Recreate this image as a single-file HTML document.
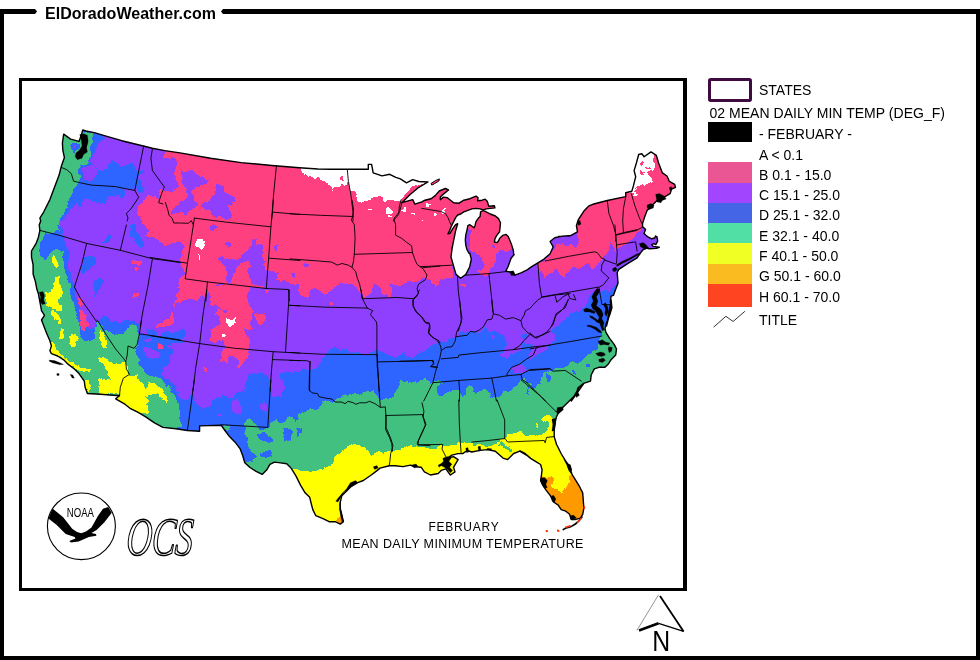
<!DOCTYPE html>
<html lang="en">
<head>
<meta charset="utf-8">
<title>ElDoradoWeather.com - February Mean Daily Minimum Temperature</title>
<style>
html,body{margin:0;padding:0;background:#fff;}
body{width:980px;height:660px;overflow:hidden;position:relative;font-family:"Liberation Sans",sans-serif;}
svg{position:absolute;left:0;top:0;display:block;}
text{font-family:"Liberation Sans",sans-serif;fill:#000;}
.lg{font-size:14px;}
.st{fill:none;stroke:#000;stroke-width:0.9;stroke-linejoin:round;stroke-linecap:round;}
.co{fill:none;stroke:#000;stroke-width:1.4;stroke-linejoin:round;stroke-linecap:round;}
.k{fill:#000;stroke:#000;stroke-width:0.2;stroke-linejoin:round;}
</style>
</head>
<body>
<svg width="980" height="660" viewBox="0 0 980 660">
<rect x="0" y="0" width="980" height="660" fill="#fff"/>

<g id="frame" fill="#000">
<rect x="0" y="9" width="4" height="651"/>
<polygon points="0,9 35,9 37,11.5 35,14 0,14"/>
<polygon points="223,9 980,9 980,14 223,14 221,11.5"/>
<rect x="976" y="9" width="4" height="651"/>
<rect x="0" y="656" width="980" height="4"/>
</g>
<text x="45" y="19" font-size="16" font-weight="bold" textLength="171" lengthAdjust="spacing">ElDoradoWeather.com</text>
<path d="M19,78 H687 V591 H19 Z M22,81 V588 H683 V81 Z" fill="#000" fill-rule="evenodd"/>
<g id="map">
<clipPath id="us"><polygon points="63.7,134.1 70.6,139.1 79.0,141.4 81.3,135.3 82.8,129.9 85.9,131.0 94.3,132.6 103.5,135.3 121.8,140.7 143.3,146.0 152.4,148.3 164.7,150.6 180.0,152.9 210.6,158.3 241.2,162.6 271.8,165.5 299.4,167.8 317.8,169.0 330.0,169.3 368.3,169.3 368.3,164.4 371.6,164.4 373.2,172.8 382.0,175.9 389.7,174.3 395.8,177.4 400.4,178.9 406.5,182.8 412.7,179.7 418.8,181.5 428.0,182.0 418.8,187.3 409.6,195.0 401.9,202.7 412.7,199.6 414.9,204.2 421.8,201.9 425.0,200.2 431.1,198.7 435.2,195.6 439.3,191.0 445.4,188.5 448.5,190.0 443.4,194.1 440.3,197.1 440.3,199.7 443.4,197.1 447.4,197.7 450.5,200.2 453.6,202.8 458.7,203.3 463.8,200.2 469.9,198.7 476.0,196.1 478.1,197.7 477.6,200.7 482.1,200.2 485.2,199.2 487.2,201.2 488.8,206.3 494.4,205.8 494.9,207.9 490.3,208.4 486.2,208.9 483.2,209.9 480.1,208.9 476.0,208.4 471.9,208.9 467.9,210.4 463.8,211.9 460.7,214.0 457.7,215.0 455.6,217.6 453.6,221.6 451.5,225.7 449.5,230.8 448.0,233.9 450.0,233.4 452.6,228.8 455.6,224.7 457.7,223.7 455.6,230.8 454.6,235.9 453.1,243.1 452.0,249.2 451.0,257.0 452.9,263.7 456.0,274.4 460.6,278.2 465.9,274.4 469.7,266.7 471.3,259.1 469.7,253.0 468.9,253.3 466.8,249.2 465.8,245.1 465.3,240.0 465.8,234.9 466.8,230.8 467.9,225.7 469.9,224.7 474.0,227.8 475.0,225.7 476.0,221.6 478.1,218.6 480.1,216.5 480.6,211.9 483.2,210.4 486.2,211.9 490.3,214.0 495.4,216.0 498.5,218.6 500.5,222.7 500.0,227.8 499.5,231.8 496.4,235.9 494.9,239.0 494.4,242.0 497.4,242.6 500.0,238.0 502.6,235.4 506.1,234.4 508.2,236.4 509.7,240.0 511.7,245.1 513.3,250.2 513.8,255.3 514.1,254.5 511.1,258.3 508.0,266.7 505.7,271.3 511.1,272.1 514.9,275.2 521.0,272.9 527.1,269.8 531.7,266.7 537.9,262.9 544.0,259.1 550.1,253.7 553.2,246.8 550.1,241.5 554.7,237.7 562.3,236.1 570.0,235.8 558.4,236.4 570.6,235.7 577.5,231.8 576.4,225.7 578.3,219.6 584.4,210.4 589.0,205.8 592.8,204.3 607.3,200.5 625.7,196.6 625.7,192.8 631.8,191.3 633.4,185.9 635.7,176.7 634.1,170.6 636.4,163.0 638.7,154.5 641.8,153.8 644.1,156.8 651.0,151.9 656.3,155.3 658.6,163.0 662.4,172.9 667.0,176.0 669.3,181.3 674.7,184.4 675.5,187.4 671.6,189.0 670.1,193.6 662.4,198.2 656.3,201.2 651.7,205.8 647.1,210.4 644.8,216.5 642.6,223.4 642.5,226.5 645.6,229.6 644.0,233.4 647.9,236.9 651.7,238.8 654.7,238.0 655.5,236.0 657.0,236.9 657.7,241.1 655.8,244.6 653.7,243.7 651.7,244.6 653.2,246.4 659.3,247.3 656.3,248.4 649.4,248.7 646.3,248.0 643.3,249.5 640.2,253.3 637.1,257.9 628.0,263.3 618.8,269.4 617.2,272.4 618.0,283.2 615.7,289.3 613.4,295.4 611.1,296.2 610.4,301.5 611.1,307.7 609.6,313.8 608.1,319.9 606.5,326.0 611.1,300.0 611.9,307.7 609.6,315.3 606.5,323.0 605.0,328.3 605.8,332.1 609.6,338.3 614.2,344.4 616.5,349.0 615.7,355.1 611.1,359.7 608.1,364.3 605.0,367.3 598.9,367.3 594.3,368.9 591.2,375.0 590.5,381.1 583.6,383.4 579.0,387.2 575.9,393.4 572.9,398.0 571.3,401.0 584.1,383.1 578.0,387.7 576.4,393.8 570.3,399.9 564.2,406.0 559.6,410.6 556.5,416.7 555.0,422.9 554.2,430.5 554.2,436.6 556.5,444.3 561.1,453.5 565.7,461.1 569.5,467.2 571.8,473.4 564.3,459.2 568.9,465.3 571.2,473.0 575.0,479.1 579.6,486.7 582.7,492.9 583.4,502.0 583.9,508.2 582.7,514.3 580.4,518.1 575.0,519.6 571.2,519.6 569.6,514.3 565.8,511.2 561.2,509.7 558.2,505.1 553.6,502.0 550.5,495.9 545.9,489.8 542.9,485.2 540.6,480.6 541.3,476.0 542.1,469.9 540.6,464.5 536.7,462.2 530.6,458.4 524.5,453.1 519.9,450.8 525.9,455.0 519.8,451.2 513.7,453.5 507.6,459.6 503.0,458.1 495.3,451.2 487.7,449.6 480.0,450.4 471.8,452.0 467.2,450.5 462.7,453.6 458.1,453.6 451.9,455.1 447.3,458.2 453.5,456.6 458.1,459.7 453.5,467.3 455.0,471.9 450.4,475.0 445.8,468.9 441.2,470.4 438.2,473.5 430.5,475.0 424.4,471.9 421.3,467.3 413.7,466.6 410.6,465.1 403.0,466.6 395.3,465.8 389.2,465.8 380.0,468.1 377.0,470.6 370.9,475.2 363.3,480.5 357.1,482.8 351.0,486.6 346.4,491.2 341.8,495.8 340.3,501.9 340.3,509.6 341.8,515.7 343.4,521.8 340.3,524.1 335.7,521.8 329.6,521.8 323.5,518.8 315.8,515.7 312.8,509.6 311.2,503.5 309.7,497.3 305.1,492.8 300.5,485.1 295.9,475.9 291.3,468.3 286.7,463.7 280.6,462.9 274.5,462.1 269.9,464.4 266.8,469.8 262.2,474.4 256.1,471.3 250.0,467.5 244.8,462.7 242.5,455.0 240.2,448.9 235.6,442.8 229.5,436.6 224.9,430.5 221.1,425.2 199.6,425.9 199.6,431.3 187.4,430.5 175.9,428.7 162.9,427.4 154.5,422.9 145.3,416.7 137.7,412.1 130.0,408.3 124.9,404.2 115.7,398.8 119.5,395.8 100.4,394.2 87.4,393.5 85.1,387.3 84.3,381.2 79.0,373.6 74.4,369.0 68.3,364.4 63.7,359.8 57.6,356.0 51.4,353.7 49.9,350.6 51.4,346.0 49.9,340.7 46.8,333.8 43.8,326.1 41.5,320.0 44.5,315.3 41.5,310.7 40.7,306.1 38.4,293.9 36.9,289.3 35.4,281.6 33.1,274.0 33.1,264.8 31.5,257.1 31.5,251.0 36.1,243.4 38.4,237.2 39.9,230.4 39.2,225.0 40.7,221.0 39.9,218.0 43.8,211.8 49.9,199.6 54.5,187.3 59.1,175.1 61.4,165.9 64.4,157.5 62.9,150.6 62.4,143.0"/></clipPath>
<filter id="rough" filterUnits="userSpaceOnUse" x="0" y="80" width="700" height="520" color-interpolation-filters="sRGB"><feTurbulence type="fractalNoise" baseFrequency="0.11" numOctaves="3" seed="7" result="n"/><feDisplacementMap in="SourceGraphic" in2="n" scale="7" xChannelSelector="R" yChannelSelector="G"/></filter>
<g clip-path="url(#us)">
<rect x="0" y="80" width="700" height="520" fill="#8f40ff"/>
<g filter="url(#rough)" shape-rendering="crispEdges">
<polygon points="63.7,134.1 70.6,139.1 79.0,141.4 81.3,135.3 82.8,129.9 85.9,131.0 94.3,132.6 103.5,135.3 121.8,140.7 143.3,146.0 152.4,148.3 164.7,150.6 180.0,152.9 210.6,158.3 241.2,162.6 271.8,165.5 299.4,167.8 317.8,169.0 330.0,169.3 368.3,169.3 368.3,164.4 371.6,164.4 373.2,172.8 382.0,175.9 389.7,174.3 395.8,177.4 400.4,178.9 406.5,182.8 412.7,179.7 418.8,181.5 428.0,182.0 418.8,187.3 409.6,195.0 401.9,202.7 412.7,199.6 414.9,204.2 421.8,201.9 425.0,200.2 431.1,198.7 435.2,195.6 439.3,191.0 445.4,188.5 448.5,190.0 443.4,194.1 440.3,197.1 440.3,199.7 443.4,197.1 447.4,197.7 450.5,200.2 453.6,202.8 458.7,203.3 463.8,200.2 469.9,198.7 476.0,196.1 478.1,197.7 477.6,200.7 482.1,200.2 485.2,199.2 487.2,201.2 488.8,206.3 494.4,205.8 494.9,207.9 490.3,208.4 486.2,208.9 483.2,209.9 480.1,208.9 476.0,208.4 471.9,208.9 467.9,210.4 463.8,211.9 460.7,214.0 457.7,215.0 455.6,217.6 453.6,221.6 451.5,225.7 449.5,230.8 448.0,233.9 450.0,233.4 452.6,228.8 455.6,224.7 457.7,223.7 455.6,230.8 454.6,235.9 453.1,243.1 452.0,249.2 451.0,257.0 452.9,263.7 456.0,274.4 460.6,278.2 465.9,274.4 469.7,266.7 471.3,259.1 469.7,253.0 468.9,253.3 466.8,249.2 465.8,245.1 465.3,240.0 465.8,234.9 466.8,230.8 467.9,225.7 469.9,224.7 474.0,227.8 475.0,225.7 476.0,221.6 478.1,218.6 480.1,216.5 480.6,211.9 483.2,210.4 486.2,211.9 490.3,214.0 495.4,216.0 498.5,218.6 500.5,222.7 500.0,227.8 499.5,231.8 496.4,235.9 494.9,239.0 494.4,242.0 497.4,242.6 500.0,238.0 502.6,235.4 506.1,234.4 508.2,236.4 509.7,240.0 511.7,245.1 513.3,250.2 513.8,255.3 514.1,254.5 511.1,258.3 508.0,266.7 505.7,271.3 511.1,272.1 514.9,275.2 521.0,272.9 527.1,269.8 531.7,266.7 537.9,262.9 544.0,259.1 550.1,253.7 553.2,246.8 550.1,241.5 554.7,237.7 562.3,236.1 570.0,235.8 558.4,236.4 570.6,235.7 577.5,231.8 576.4,225.7 578.3,219.6 584.4,210.4 589.0,205.8 592.8,204.3 607.3,200.5 625.7,196.6 625.7,192.8 631.8,191.3 633.4,185.9 635.7,176.7 634.1,170.6 636.4,163.0 638.7,154.5 641.8,153.8 644.1,156.8 651.0,151.9 656.3,155.3 658.6,163.0 662.4,172.9 667.0,176.0 669.3,181.3 674.7,184.4 675.5,187.4 671.6,189.0 670.1,193.6 662.4,198.2 656.3,201.2 651.7,205.8 647.1,210.4 644.8,216.5 642.6,223.4 642.5,226.5 645.6,229.6 644.0,233.4 647.9,236.9 651.7,238.8 654.7,238.0 655.5,236.0 657.0,236.9 657.7,241.1 655.8,244.6 653.7,243.7 651.7,244.6 653.2,246.4 659.3,247.3 656.3,248.4 649.4,248.7 646.3,248.0 643.3,249.5 640.2,253.3 637.1,257.9 628.0,263.3 618.8,269.4 617.2,272.4 618.0,283.2 615.7,289.3 613.4,295.4 611.1,296.2 610.4,301.5 611.1,307.7 609.6,313.8 608.1,319.9 606.5,326.0 611.1,300.0 611.9,307.7 609.6,315.3 606.5,323.0 605.0,328.3 605.8,332.1 609.6,338.3 614.2,344.4 616.5,349.0 615.7,355.1 611.1,359.7 608.1,364.3 605.0,367.3 598.9,367.3 594.3,368.9 591.2,375.0 590.5,381.1 583.6,383.4 579.0,387.2 575.9,393.4 572.9,398.0 571.3,401.0 584.1,383.1 578.0,387.7 576.4,393.8 570.3,399.9 564.2,406.0 559.6,410.6 556.5,416.7 555.0,422.9 554.2,430.5 554.2,436.6 556.5,444.3 561.1,453.5 565.7,461.1 569.5,467.2 571.8,473.4 564.3,459.2 568.9,465.3 571.2,473.0 575.0,479.1 579.6,486.7 582.7,492.9 583.4,502.0 583.9,508.2 582.7,514.3 580.4,518.1 575.0,519.6 571.2,519.6 569.6,514.3 565.8,511.2 561.2,509.7 558.2,505.1 553.6,502.0 550.5,495.9 545.9,489.8 542.9,485.2 540.6,480.6 541.3,476.0 542.1,469.9 540.6,464.5 536.7,462.2 530.6,458.4 524.5,453.1 519.9,450.8 525.9,455.0 519.8,451.2 513.7,453.5 507.6,459.6 503.0,458.1 495.3,451.2 487.7,449.6 480.0,450.4 471.8,452.0 467.2,450.5 462.7,453.6 458.1,453.6 451.9,455.1 447.3,458.2 453.5,456.6 458.1,459.7 453.5,467.3 455.0,471.9 450.4,475.0 445.8,468.9 441.2,470.4 438.2,473.5 430.5,475.0 424.4,471.9 421.3,467.3 413.7,466.6 410.6,465.1 403.0,466.6 395.3,465.8 389.2,465.8 380.0,468.1 377.0,470.6 370.9,475.2 363.3,480.5 357.1,482.8 351.0,486.6 346.4,491.2 341.8,495.8 340.3,501.9 340.3,509.6 341.8,515.7 343.4,521.8 340.3,524.1 335.7,521.8 329.6,521.8 323.5,518.8 315.8,515.7 312.8,509.6 311.2,503.5 309.7,497.3 305.1,492.8 300.5,485.1 295.9,475.9 291.3,468.3 286.7,463.7 280.6,462.9 274.5,462.1 269.9,464.4 266.8,469.8 262.2,474.4 256.1,471.3 250.0,467.5 244.8,462.7 242.5,455.0 240.2,448.9 235.6,442.8 229.5,436.6 224.9,430.5 221.1,425.2 199.6,425.9 199.6,431.3 187.4,430.5 175.9,428.7 162.9,427.4 154.5,422.9 145.3,416.7 137.7,412.1 130.0,408.3 124.9,404.2 115.7,398.8 119.5,395.8 100.4,394.2 87.4,393.5 85.1,387.3 84.3,381.2 79.0,373.6 74.4,369.0 68.3,364.4 63.7,359.8 57.6,356.0 51.4,353.7 49.9,350.6 51.4,346.0 49.9,340.7 46.8,333.8 43.8,326.1 41.5,320.0 44.5,315.3 41.5,310.7 40.7,306.1 38.4,293.9 36.9,289.3 35.4,281.6 33.1,274.0 33.1,264.8 31.5,257.1 31.5,251.0 36.1,243.4 38.4,237.2 39.9,230.4 39.2,225.0 40.7,221.0 39.9,218.0 43.8,211.8 49.9,199.6 54.5,187.3 59.1,175.1 61.4,165.9 64.4,157.5 62.9,150.6 62.4,143.0" fill="#8f40ff"/>
<polygon points="165.2,146.1 164.9,159.9 168.3,158.4 172.1,156.1 175.9,158.4 177.4,163.0 175.2,169.1 173.6,176.0 177.4,181.3 180.5,185.9 175.9,189.7 168.3,192.0 164.4,192.8 162.9,187.4 159.8,190.5 158.3,198.2 154.5,196.3 148.4,197.4 142.2,201.2 137.7,207.3 138.4,215.0 143.8,221.1 146.8,228.8 153.0,233.4 156.8,239.5 160.6,244.1 283.1,244.1 283.1,155.3" fill="#ff4080"/>
<polygon points="143.8,221.9 149.9,231.1 145.3,235.7 154.5,238.0 165.2,241.8 174.4,240.3 180.5,238.0 184.3,244.9 180.5,251.0 182.8,255.6 180.5,261.7 183.6,270.9 180.5,278.6 177.4,286.2 180.5,292.3 175.9,298.5 175.2,306.1 180.5,298.5 186.6,295.4 191.2,296.9 195.8,300.0 200.4,296.9 205.0,298.5 208.1,293.9 209.6,292.3 215.7,286.2 221.8,284.7 228.0,289.3 224.9,293.9 215.7,295.4 209.6,296.9 211.1,303.1 215.7,304.6 221.8,307.7 228.0,310.7 224.9,314.5 218.8,313.8 220.3,319.9 221.8,329.1 252.4,329.1 252.4,316.8 250.9,306.1 247.9,296.9 249.4,287.8 266.2,287.8 267.0,270.9 276.9,270.9 283.1,275.5 283.1,221.9" fill="#ff4080"/>
<polygon points="131.5,261.0 137.7,259.4 142.2,261.7 137.7,264.0 132.3,264.5" fill="#ff4080"/>
<polygon points="134.6,269.4 137.7,267.9 136.9,270.9 134.9,271.7" fill="#ff4080"/>
<polygon points="133.1,294.6 136.1,293.9 139.2,296.9 136.1,298.5 133.4,297.7" fill="#ff4080"/>
<polygon points="159.1,323.0 165.2,319.9 170.6,313.0 174.4,315.3 173.6,323.0 168.3,326.0 160.6,326.8" fill="#ff4080"/>
<polygon points="254.0,313.8 263.2,313.0 266.2,318.4 261.6,323.7 257.0,318.4" fill="#ff4080"/>
<polygon points="210.4,303.8 215.7,303.1 217.2,305.4 211.9,306.1" fill="#ff4080"/>
<polygon points="265.5,290.1 270.1,289.3 268.5,292.3 265.9,292.7" fill="#ff4080"/>
<polygon points="206.6,286.9 211.2,294.6 218.9,300.7 226.5,306.8 229.6,311.4 223.5,319.1 220.4,325.2 214.3,326.7 210.5,331.3 209.7,337.4 212.8,342.0 217.3,339.0 223.5,340.5 225.0,348.2 221.9,354.3 221.2,360.4 226.5,362.7 228.1,355.8 235.7,355.8 238.8,360.4 238.0,366.5 240.3,368.1 243.4,361.9 247.2,357.3 248.0,351.2 249.5,343.6 246.4,334.4 242.6,328.3 248.0,323.7 252.6,319.1 251.8,311.4 249.5,303.8 248.0,296.1 249.5,286.9" fill="#ff4080"/>
<polygon points="209.7,303.0 215.8,303.8 215.1,306.1 210.5,305.3" fill="#ff4080"/>
<polygon points="217.3,308.4 223.5,309.9 225.0,314.5 218.9,315.3 214.3,313.0" fill="#ff4080"/>
<polygon points="176.0,296.1 180.6,290.0 206.6,290.0 206.6,294.6 200.5,296.1 194.4,300.7 188.3,297.7 179.1,303.8 176.0,299.2" fill="#ff4080"/>
<polygon points="254.1,313.7 263.3,313.0 266.3,319.1 262.5,324.4 258.7,319.1" fill="#ff4080"/>
<polygon points="156.1,326.0 159.2,322.9 165.3,319.1 169.9,314.5 173.7,313.0 174.5,322.1 168.4,323.7 162.2,327.5 157.7,329.8" fill="#ff4080"/>
<polygon points="202.0,368.1 204.3,367.3 205.9,373.4 203.6,372.7" fill="#ff4080"/>
<polygon points="184.4,386.4 186.0,386.1 186.3,391.0 184.4,391.0" fill="#ff4080"/>
<polygon points="265.6,290.0 269.4,290.3 267.9,292.3 266.0,291.8" fill="#ff4080"/>
<polygon points="267.8,250.9 266.8,271.4 274.0,269.3 280.1,263.2 284.2,264.2 279.1,271.4 275.0,279.5 283.2,281.6 291.3,283.6 297.5,285.7 298.5,292.8 306.7,299.0 310.8,290.8 315.9,287.7 322.0,290.8 325.1,294.9 332.2,288.7 338.4,284.7 348.6,283.6 352.7,282.2 357.8,288.7 360.9,292.8 362.9,295.9 371.1,294.9 373.1,285.7 380.3,286.7 382.4,294.9 391.6,295.9 392.6,290.8 386.4,283.6 393.6,285.7 403.8,287.3 410.0,279.5 420.2,277.9 430.4,275.4 434.5,275.4 434.5,132.3 267.8,132.3" fill="#ff4080"/>
<polygon points="328.2,304.1 332.2,303.7 331.8,306.1 328.6,306.1" fill="#ff4080"/>
<polygon points="254.5,313.3 263.7,314.3 265.8,319.4 261.7,324.5 257.6,318.4" fill="#ff4080"/>
<polygon points="404.7,280.5 420.0,280.5 426.9,279.0 430.7,280.5 436.8,285.1 439.9,280.5 444.5,279.0 447.6,274.4 448.3,269.8 452.9,268.3 452.9,214.7 404.7,214.7" fill="#ff4080"/>
<polygon points="416.9,170.0 527.1,170.0 527.1,208.3 484.3,208.3 465.9,214.4 461.3,220.5 460.1,235.8 456.0,243.5 452.9,277.1 416.9,277.1" fill="#ff4080"/>
<polygon points="465.9,207.0 505.7,207.0 518.0,234.6 514.1,242.2 511.8,245.3 508.8,251.4 501.1,251.4 496.5,253.0 501.1,256.0 499.6,260.6 493.5,262.1 491.9,266.7 489.6,269.0 488.9,274.4 484.3,277.4 479.7,274.4 478.2,271.3 481.2,269.0 484.3,266.0 481.2,257.6 473.6,254.5 469.0,249.9 467.4,239.2 465.9,230.0" fill="#ff4080"/>
<polygon points="462.1,282.8 464.4,282.5 464.7,284.8 462.4,284.8" fill="#ff4080"/>
<polygon points="537.7,264.0 545.3,260.2 549.9,255.6 553.0,251.0 557.6,246.4 562.1,244.1 566.7,246.4 571.3,243.4 575.9,248.0 579.0,244.9 580.5,240.3 583.6,235.7 580.5,231.1 579.0,225.0 579.0,209.7 637.1,209.7 643.3,220.4 642.5,225.0 641.7,229.6 637.1,232.7 634.1,237.2 629.5,240.3 624.9,244.9 620.3,248.0 615.7,250.3 613.4,246.4 611.1,243.4 606.5,251.0 605.0,255.6 601.2,260.2 598.1,263.3 594.3,266.3 591.2,269.4 589.7,263.3 585.1,264.8 579.0,267.1 571.3,269.4 566.0,272.4 564.4,278.6 560.6,275.5 557.6,270.9 549.9,272.4 545.3,277.0 543.8,274.0 539.2,270.9" fill="#ff4080"/>
<polygon points="578.3,234.9 576.7,231.8 570.6,230.3 570.6,132.3 693.1,132.3 693.1,193.6 674.7,193.6 662.4,201.2 653.3,207.3 648.7,211.9 647.1,218.1 645.6,223.4 638.0,225.7 634.9,230.3 631.8,234.9 625.7,238.0 622.7,244.1 578.3,244.1" fill="#ff4080"/>
<polygon points="180.5,170.6 191.2,169.8 197.3,175.2 209.6,180.6 203.5,185.2 194.3,185.9 191.2,190.5 195.8,198.2 197.3,204.3 191.2,210.4 188.2,215.8 182.0,213.5 175.9,215.0 170.6,213.5 172.9,208.9 179.0,204.3 183.6,199.7 188.2,195.1 185.1,190.5 182.0,184.4 180.5,178.3" fill="#8f40ff"/>
<polygon points="215.7,185.9 221.8,186.7 224.9,192.0 235.6,196.6 234.1,202.8 228.0,207.3 231.0,213.5 228.0,219.6 220.3,218.1 212.7,215.0 209.6,210.4 200.4,207.3 201.9,202.8 209.6,201.2 212.7,196.6 215.7,192.0" fill="#8f40ff"/>
<polygon points="213.4,224.2 218.8,228.0 214.2,231.8 209.6,228.5" fill="#8f40ff"/>
<polygon points="218.8,259.4 221.8,255.6 228.0,257.9 235.6,261.7 240.2,257.1 246.3,251.8 251.7,244.9 252.4,238.0 258.6,239.5 256.3,243.4 262.4,245.7 264.7,252.6 260.9,257.1 265.5,264.0 267.0,270.9 266.2,287.8 250.9,286.2 250.9,278.6 247.9,270.9 250.9,264.8 246.3,261.0 241.0,263.3 236.4,267.1 234.1,274.0 231.8,281.6 228.0,283.9 224.9,278.6 228.0,273.2 224.9,267.9 221.1,264.8" fill="#8f40ff"/>
<polygon points="213.4,225.0 218.8,228.1 214.2,231.9 209.6,228.1" fill="#8f40ff"/>
<polygon points="225.7,243.4 229.5,242.6 231.8,246.4 228.0,248.0" fill="#8f40ff"/>
<polygon points="273.9,243.4 276.9,244.1 275.4,252.6 273.1,251.0" fill="#8f40ff"/>
<polygon points="304.6,264.2 307.7,265.2 306.7,267.7 304.0,266.9" fill="#8f40ff"/>
<polygon points="291.3,273.4 295.4,273.0 295.0,275.9 291.8,275.4" fill="#8f40ff"/>
<polygon points="465.3,228.8 468.9,227.8 469.9,232.9 468.9,239.0 468.4,245.1 470.9,250.2 476.0,253.3 480.1,255.3 480.1,261.4 465.8,261.4 464.8,245.1 465.3,235.9" fill="#8f40ff"/>
<polygon points="496.4,253.3 500.5,251.2 506.6,252.2 509.7,250.2 511.7,245.1 513.8,247.1 514.8,261.4 496.4,261.4" fill="#8f40ff"/>
<polygon points="491.3,243.1 493.4,244.1 496.4,245.6 495.4,247.1 492.3,245.1" fill="#8f40ff"/>
<polygon points="451.5,245.1 454.1,244.6 453.6,257.3 451.0,257.3" fill="#8f40ff"/>
<polygon points="195.8,242.6 198.1,240.0 201.9,239.5 204.7,243.4 203.2,247.2 201.9,250.3 199.6,248.0 196.6,246.4" fill="#ffffff"/>
<polygon points="198.1,255.6 200.4,254.8 201.6,257.4 199.2,258.7" fill="#ffffff"/>
<polygon points="226.5,319.1 229.6,316.8 233.4,318.3 235.7,316.8 234.9,322.1 231.9,326.0 228.1,323.7" fill="#ffffff"/>
<polygon points="221.9,333.6 225.8,334.1 225.3,335.9 222.2,335.5" fill="#ffffff"/>
<polygon points="622.7,192.0 630.3,149.2 653.3,148.4 654.0,154.5 653.3,159.9 655.6,166.0 654.0,169.1 649.4,170.6 647.1,172.9 649.4,176.0 652.5,178.3 653.3,181.3 648.7,182.9 647.1,185.9 642.6,184.4 639.5,187.4 634.9,190.5 631.8,192.0 625.7,193.6" fill="#ffffff"/>
<polygon points="631.8,192.0 636.4,192.8 638.0,195.1 633.4,195.4" fill="#ffffff"/>
<polygon points="300.6,166.0 300.6,169.1 301.6,172.1 307.7,175.2 313.8,180.3 317.9,177.3 322.0,179.3 326.1,183.4 330.2,185.4 332.2,191.6 334.3,186.5 340.4,185.4 346.6,182.4 348.6,187.5 350.7,191.6 356.8,192.6 357.8,200.8 362.9,203.8 369.1,200.8 377.2,195.7 381.3,197.7 385.4,201.8 391.6,199.8 399.7,201.8 403.8,195.7 410.0,189.5 418.1,184.4 426.3,182.4 429.4,180.3 414.0,177.3 373.1,160.9 332.2,160.9" fill="#ffffff"/>
<polygon points="384.4,210.0 387.5,207.5 391.1,209.0 390.5,212.4 387.1,213.7" fill="#ffffff"/>
<polygon points="401.4,207.9 404.8,206.9 407.5,209.0 404.8,211.0 401.8,210.4" fill="#ffffff"/>
<polygon points="411.6,214.1 414.5,213.7 414.9,216.1 412.0,216.5" fill="#ffffff"/>
<polygon points="420.6,219.2 423.3,218.8 423.5,221.2 421.0,221.4" fill="#ffffff"/>
<polygon points="368.0,207.9 370.7,207.5 371.1,210.0 368.4,210.2" fill="#ffffff"/>
<polygon points="387.9,215.1 390.5,214.7 390.7,217.1 388.1,217.3" fill="#ffffff"/>
<polygon points="426.1,203.7 429.9,202.4 433.0,204.0 430.7,206.0 426.9,205.5" fill="#ffffff"/>
<polygon points="440.7,210.1 444.5,208.3 446.3,211.0 443.0,212.6" fill="#ffffff"/>
<polygon points="434.5,213.6 436.1,213.3 436.2,215.5 434.7,215.5" fill="#ffffff"/>
<polygon points="639.5,163.0 642.6,162.2 642.9,166.0 640.3,166.3" fill="#ff4080"/>
<polygon points="641.0,171.4 644.1,170.6 645.6,174.4 642.6,175.2" fill="#ff4080"/>
<polygon points="645.6,166.0 650.2,165.3 651.0,168.3 647.1,169.1" fill="#ff4080"/>
<polygon points="340.8,177.7 343.7,177.3 344.1,180.5 341.5,180.9" fill="#ff4080"/>
<polygon points="282.3,371.1 290.0,371.1 297.7,372.7 302.2,368.1 309.9,369.6 316.0,366.5 320.6,360.4 325.2,354.3 329.8,351.2 335.9,345.9 340.5,351.2 345.1,348.2 351.2,351.2 355.8,354.3 366.5,354.3 372.7,351.2 377.2,348.9 381.8,351.2 388.0,354.3 394.1,358.9 398.7,355.8 403.3,352.8 406.3,357.3 412.4,360.4 417.0,357.3 423.2,355.8 427.8,351.2 433.9,346.6 440.0,343.6 443.1,343.6 443.1,534.9 282.3,534.9" fill="#2e64ff"/>
<polygon points="400.0,353.6 404.6,356.6 412.2,355.1 419.9,353.6 424.5,350.5 430.6,347.4 435.2,344.4 439.8,341.3 445.9,341.3 449.0,336.7 456.6,336.7 461.2,333.7 468.9,332.1 473.5,330.6 481.1,332.1 484.2,328.3 488.8,330.6 491.8,335.2 491.8,529.6 400.0,529.6" fill="#2e64ff"/>
<polygon points="554.8,453.1 554.8,330.6 558.8,322.5 571.0,314.2 577.1,316.2 583.4,308.3 585.4,302.0 591.5,293.9 597.3,291.6 603.8,291.7 609.6,292.3 614.2,286.2 617.2,283.2 621.8,283.2 621.8,453.1 530.0,453.1" fill="#2e64ff"/>
<polygon points="615.7,269.1 637.1,257.6 638.4,259.0 617.6,272.1" fill="#2e64ff"/>
<polygon points="616.5,270.9 618.8,272.4 619.1,283.2 616.9,289.3 614.9,295.4 613.9,289.3 616.9,283.2" fill="#2e64ff"/>
<polygon points="90.5,133.0 103.5,135.3 101.9,139.9 97.3,144.5 95.1,150.6 92.8,156.7 89.7,161.3 97.3,170.5 101.9,169.0 106.5,165.9 112.7,161.3 115.7,162.9 121.8,167.4 129.5,163.6 135.6,165.9 137.9,172.0 137.1,181.2 135.6,189.6 128.0,188.9 121.8,188.9 124.9,193.5 121.8,196.5 115.7,195.0 109.6,196.5 106.5,201.1 100.4,204.2 94.3,202.7 89.7,199.6 85.1,198.1 82.0,202.7 83.6,207.2 80.5,207.2 77.4,202.7 72.9,205.7 69.8,211.8 66.7,214.9 63.7,218.0 60.6,227.1 53.0,227.1 53.0,120.0 90.5,120.0" fill="#2e64ff"/>
<polygon points="137.1,169.0 143.3,169.7 144.0,173.6 138.7,173.6" fill="#2e64ff"/>
<polygon points="135.6,178.2 140.2,179.7 144.8,185.8 144.0,193.5 140.2,191.9 137.1,185.8" fill="#2e64ff"/>
<polygon points="30.0,225.0 60.6,225.0 62.1,232.7 66.7,243.4 69.0,252.6 67.5,260.2 68.3,269.4 72.1,278.6 74.4,289.3 77.4,301.5 80.5,312.2 82.8,323.0 84.3,329.1 30.0,329.1" fill="#2e64ff"/>
<polygon points="82.0,257.1 88.2,255.6 95.8,258.7 97.3,264.8 91.2,266.3 86.6,270.9 83.6,275.5 80.5,272.4 82.8,264.8" fill="#2e64ff"/>
<polygon points="94.3,280.1 101.9,278.6 103.5,283.2 98.9,289.3 97.3,295.4 94.3,296.9 95.1,289.3" fill="#2e64ff"/>
<polygon points="101.9,241.8 106.5,235.7 111.1,232.7 112.7,235.7 108.1,241.8 104.2,244.1" fill="#2e64ff"/>
<polygon points="129.5,225.0 135.6,226.5 140.2,238.8 144.0,246.4 140.2,248.0 135.6,241.8 131.0,232.7" fill="#2e64ff"/>
<polygon points="72.9,321.5 97.3,322.3 103.5,316.9 109.6,317.7 112.7,323.1 121.8,323.8 124.9,318.5 129.5,320.0 134.1,323.8 140.2,324.6 139.4,333.8 180.0,339.9 183.1,340.7 183.1,427.1 72.9,427.1" fill="#2e64ff"/>
<polygon points="157.6,376.9 169.8,376.9 175.9,386.1 180.5,395.3 188.2,396.8 194.3,396.8 197.3,404.5 203.5,409.1 209.6,406.0 215.7,398.4 221.8,395.3 229.5,396.8 237.1,393.8 246.3,389.2 247.9,380.0 270.8,380.0 272.3,396.8 280.0,396.8 283.1,396.8 283.1,487.1 126.9,487.1 126.9,376.9" fill="#2e64ff"/>
<polygon points="146.9,328.3 154.6,329.8 159.2,335.9 165.3,332.9 173.0,334.4 180.6,328.3 183.7,331.3 184.4,335.9 180.6,340.5 174.5,342.0 171.4,348.2 173.0,354.3 168.4,360.4 165.3,366.5 162.2,369.6 165.3,375.7 169.9,381.8 176.0,388.0 180.6,394.1 146.9,394.1" fill="#2e64ff"/>
<polygon points="248.0,375.7 254.1,373.4 263.3,372.7 269.4,375.7 269.4,394.1 246.4,394.1 246.4,381.8" fill="#2e64ff"/>
<polygon points="278.6,372.7 284.7,371.1 293.9,371.1 300.0,372.7 303.1,375.7 303.1,394.1 281.6,394.1 280.1,381.8" fill="#2e64ff"/>
<polygon points="490.0,331.4 494.1,330.4 498.2,330.4 503.3,334.5 506.3,340.6 507.3,344.7 503.3,349.8 500.2,353.9 502.2,358.0 507.3,355.9 513.5,352.9 517.6,350.8 520.6,348.8 521.6,344.7 523.7,341.6 525.7,343.7 530.8,345.7 533.9,347.8 530.8,350.8 528.8,355.9 529.8,361.0 532.9,359.0 538.0,354.9 543.1,350.8 547.1,347.8 551.2,343.7 554.3,339.6 555.3,335.5 553.3,330.4 556.3,325.3 561.4,324.3 567.6,320.2 571.6,315.1 575.7,313.1 581.8,312.0 590.0,308.0 592.0,308.0 592.0,514.1 490.0,514.1" fill="#2e64ff"/>
<polygon points="522.1,335.5 524.7,333.5 527.2,335.0 525.7,338.6 522.7,339.1" fill="#2e64ff"/>
<polygon points="499.5,352.8 507.1,351.3 510.2,355.1 505.6,358.9 500.3,357.4" fill="#8f40ff"/>
<polygon points="511.7,367.3 517.9,364.3 525.5,365.8 527.0,370.4 520.9,373.5 513.3,372.7" fill="#8f40ff"/>
<polygon points="276.9,346.9 329.0,346.9 324.4,354.6 319.8,357.7 321.3,362.2 316.7,366.8 310.6,366.8 303.0,368.4 295.3,369.9 286.1,374.5 280.0,373.0 276.9,373.0" fill="#8f40ff"/>
<polygon points="278.5,377.6 283.1,380.6 284.6,386.7 281.5,394.4 278.5,395.9" fill="#8f40ff"/>
<polygon points="83.6,165.9 91.2,164.4 97.3,170.5 95.8,178.2 91.2,181.2 86.6,180.5 82.8,173.6" fill="#8f40ff"/>
<polygon points="165.9,346.0 173.6,342.9 184.3,342.9 195.0,344.4 193.5,395.7 187.3,398.0 181.2,399.5 178.9,394.2 176.6,388.1 172.0,383.5 165.9,380.4 161.3,374.3 156.7,368.9 162.9,366.6 169.0,362.0 172.8,354.4 170.5,348.3" fill="#8f40ff"/>
<polygon points="143.0,348.3 149.1,346.0 155.2,349.8 159.8,355.9 156.7,360.5 150.6,359.0 146.0,355.9" fill="#8f40ff"/>
<polygon points="144.5,339.8 150.6,338.3 152.9,341.4 147.6,342.9" fill="#8f40ff"/>
<polygon points="82.8,318.5 94.3,318.5 95.1,326.1 91.2,330.7 86.6,329.2 83.6,324.6" fill="#8f40ff"/>
<polygon points="232.6,399.9 238.7,399.1 241.0,406.0 239.4,415.2 234.1,414.4 232.6,407.6" fill="#8f40ff"/>
<polygon points="260.1,404.5 266.2,403.0 267.8,409.1 263.2,410.6 260.1,408.3" fill="#8f40ff"/>
<polygon points="218.8,412.9 221.8,412.4 222.6,416.0 219.5,416.4" fill="#8f40ff"/>
<polygon points="490.5,335.0 494.1,334.5 496.1,337.6 494.1,340.6 491.0,340.1" fill="#8f40ff"/>
<polygon points="264.7,429.6 280.0,425.0 284.6,421.9 287.7,415.8 292.2,417.3 296.8,421.9 299.9,414.3 306.0,412.8 312.1,405.9 316.7,409.7 322.9,402.0 329.0,400.5 333.6,402.0 341.2,395.9 345.8,392.9 351.9,395.9 359.6,394.4 367.2,390.6 373.4,390.6 376.4,395.9 379.5,400.5 387.1,399.0 393.3,395.9 397.9,389.8 399.4,382.1 407.0,383.7 414.7,380.6 420.8,385.2 425.4,383.7 423.9,379.1 426.9,377.6 430.0,383.7 433.1,383.7 433.1,549.0 264.7,549.0" fill="#42c080"/>
<polygon points="400.0,381.1 407.7,382.7 415.3,383.4 423.0,379.6 429.1,387.2 432.9,382.7 436.7,379.6 441.3,384.2 436.7,391.8 439.8,396.4 445.9,394.9 452.0,390.3 458.2,390.3 461.2,398.0 465.8,394.9 465.8,385.7 471.9,387.2 476.5,394.9 479.6,391.8 484.2,388.8 488.8,391.8 491.8,398.0 498.0,396.4 504.1,391.8 510.2,391.8 516.3,385.7 520.9,381.1 524.0,378.1 527.0,382.7 533.2,388.8 537.8,385.7 542.3,379.6 543.9,371.9 550.0,369.6 553.1,369.6 553.1,499.0 400.0,499.0" fill="#42c080"/>
<polygon points="530.0,385.7 536.1,388.8 539.2,382.7 543.8,376.5 546.8,371.9 549.9,368.9 557.6,368.1 565.2,367.3 568.3,362.8 572.9,361.2 577.4,365.8 582.0,359.7 586.6,356.6 592.8,352.0 597.3,349.0 598.9,342.9 601.9,335.2 602.7,329.1 605.0,328.3 621.8,328.3 621.8,453.1 530.0,453.1" fill="#42c080"/>
<polygon points="54.5,126.1 94.3,132.6 91.2,136.8 91.2,144.5 91.2,155.2 88.2,161.3 82.0,165.9 79.0,172.0 80.5,179.7 75.9,185.8 72.9,191.9 69.8,199.6 68.3,205.7 63.7,211.8 62.1,218.0 60.6,227.1 30.0,227.1 30.0,120.0" fill="#42c080"/>
<polygon points="30.0,225.0 57.6,225.0 59.1,229.6 53.0,231.9 45.3,233.4 41.5,241.8 39.2,249.5 40.7,255.6 43.8,261.0 48.4,254.8 53.0,250.3 57.6,248.0 62.1,251.0 64.4,257.9 63.7,264.8 65.2,272.4 68.3,281.6 70.6,290.8 72.9,301.5 75.9,312.2 79.0,323.0 80.5,329.1 30.0,329.1" fill="#42c080"/>
<polygon points="30.0,320.0 75.9,320.0 79.0,329.2 80.5,336.8 86.6,341.4 94.3,338.4 95.8,329.2 97.3,323.1 101.9,327.7 109.6,332.2 115.7,335.3 121.8,332.2 128.0,327.7 137.1,326.1 139.4,333.8 137.1,344.5 135.6,350.6 138.7,358.3 140.2,364.4 144.8,372.0 150.9,376.6 158.6,379.7 164.7,384.3 170.8,390.4 174.6,399.6 176.2,408.8 179.2,418.0 180.0,421.0 183.1,427.1 30.0,427.1" fill="#42c080"/>
<polygon points="126.9,376.9 160.6,376.9 168.3,389.2 175.9,396.8 179.0,404.5 177.4,413.7 180.5,422.9 179.0,428.2 162.9,427.4 154.5,422.9 145.3,416.7 126.9,407.6" fill="#42c080"/>
<polygon points="247.9,419.8 252.4,421.3 257.0,425.9 260.1,430.5 267.8,429.0 272.3,422.9 276.9,421.3 283.1,424.4 283.1,487.1 243.3,487.1 244.8,462.7 252.4,461.1 257.0,456.5 252.4,450.4 247.9,444.3 245.6,433.6 244.8,425.9" fill="#42c080"/>
<polygon points="221.8,425.2 229.5,425.9 228.0,429.0 224.1,427.4" fill="#42c080"/>
<polygon points="436.7,387.2 441.3,384.2 445.9,387.2 447.4,393.4 442.9,396.4 438.3,394.9" fill="#2e64ff"/>
<polygon points="281.5,429.6 287.7,428.1 292.2,432.7 290.7,438.8 286.1,440.3 282.3,435.7" fill="#2e64ff"/>
<polygon points="296.8,429.6 301.4,428.1 302.2,433.4 298.4,434.9" fill="#2e64ff"/>
<polygon points="530.0,371.9 536.1,371.2 541.5,373.5 540.7,382.7 536.1,385.7 530.0,384.9" fill="#2e64ff"/>
<polygon points="546.1,374.2 550.7,373.5 551.4,380.4 546.8,381.1" fill="#2e64ff"/>
<polygon points="572.9,369.6 575.9,370.1 575.6,372.7 573.2,372.6" fill="#2e64ff"/>
<polygon points="586.6,363.5 590.0,364.0 590.5,367.0 587.4,367.3" fill="#2e64ff"/>
<polygon points="524.4,386.1 527.4,387.7 530.5,393.8 528.2,393.0" fill="#2e64ff"/>
<polygon points="69.5,141.4 75.9,143.0 80.5,146.0 79.0,150.6 74.4,152.9 71.3,149.1" fill="#2e64ff"/>
<polygon points="152.1,368.2 158.3,366.6 162.9,369.7 161.3,374.3 156.7,375.8 152.9,372.8" fill="#2e64ff"/>
<polygon points="257.0,433.6 263.2,432.0 270.8,435.1 271.6,440.5 264.7,441.2 258.6,439.7" fill="#2e64ff"/>
<polygon points="260.1,453.5 267.8,450.4 272.3,451.9 270.8,456.5 264.7,459.6 260.9,458.1" fill="#2e64ff"/>
<polygon points="280.6,462.9 289.8,465.2 295.9,468.3 302.0,470.6 311.2,471.3 320.4,469.0 329.6,466.0 334.2,462.9 333.4,456.8 341.8,453.0 344.9,446.8 354.1,444.1 363.3,446.1 369.4,451.4 370.9,455.3 378.6,453.7 384.7,451.4 390.8,449.9 403.1,449.9 403.1,552.4 280.6,552.4" fill="#ffff00"/>
<polygon points="376.9,452.0 380.0,452.0 386.1,456.6 390.7,450.5 395.3,454.3 403.0,449.0 410.6,445.2 418.3,446.7 430.5,449.0 441.2,446.7 445.8,445.9 456.5,444.4 459.6,442.9 471.8,444.4 484.1,445.9 491.7,445.9 499.4,440.6 507.0,436.0 514.7,432.9 522.3,431.4 525.4,435.2 530.0,436.7 533.1,436.7 533.1,507.1 376.9,507.1" fill="#ffff00"/>
<polygon points="480.0,444.3 490.7,447.3 498.4,441.2 504.5,438.9 507.6,434.3 515.2,432.8 521.3,431.3 524.4,433.6 525.9,438.2 529.0,435.1 535.1,435.9 541.2,433.6 545.8,430.5 548.9,425.9 547.3,422.9 542.8,420.6 541.2,417.5 545.8,415.5 550.4,416.7 552.7,421.3 555.0,422.9 571.8,422.9 571.8,563.7 480.0,563.7" fill="#ffff00"/>
<polygon points="535.9,425.2 537.9,424.8 538.2,427.1 536.2,427.4" fill="#ffff00"/>
<polygon points="53.0,255.6 56.8,254.8 58.3,259.4 56.0,266.3 53.0,264.8" fill="#ffff00"/>
<polygon points="54.5,275.5 58.3,274.7 59.8,283.2 62.1,290.8 60.6,296.9 57.6,301.5 62.1,304.6 60.6,310.7 56.0,307.7 53.0,310.7 48.4,306.1 45.3,298.5 46.8,292.3 53.0,290.8 54.5,283.2" fill="#ffff00"/>
<polygon points="49.9,312.2 54.5,310.7 59.1,316.8 60.6,323.0 57.6,323.0 53.0,316.8" fill="#ffff00"/>
<polygon points="49.9,340.7 54.5,343.0 60.6,355.2 69.8,361.3 80.5,365.9 91.2,369.0 88.2,372.0 82.0,370.5 75.9,367.4 68.3,364.4 63.7,359.8 57.6,356.0 51.4,353.7 49.9,350.6" fill="#ffff00"/>
<polygon points="67.5,335.3 74.4,333.8 77.4,338.4 75.9,344.5 71.3,349.1 68.3,346.0 69.0,339.9" fill="#ffff00"/>
<polygon points="60.6,329.2 63.7,329.9 64.4,336.8 61.4,338.4" fill="#ffff00"/>
<polygon points="100.4,328.4 103.5,332.2 106.5,339.9 107.3,347.6 103.5,348.3 101.2,341.4 99.6,333.8" fill="#ffff00"/>
<polygon points="98.9,356.7 103.5,356.0 111.1,361.3 118.8,364.4 125.7,361.3 127.2,369.0 129.5,374.3 137.1,375.1 140.2,381.2 137.1,385.8 143.3,390.4 149.4,384.3 155.5,382.8 161.6,387.3 166.2,396.5 164.7,401.1 158.6,395.0 152.4,393.5 146.3,396.5 147.9,405.7 146.3,414.9 137.1,411.8 124.9,404.2 115.7,398.8 119.5,395.8 100.4,394.2 97.3,387.3 98.1,381.2 103.5,378.2 109.6,379.7 106.5,372.0 101.9,364.4" fill="#ffff00"/>
<polygon points="85.1,381.2 91.2,384.3 88.2,393.5 85.1,387.3" fill="#ffff00"/>
<polygon points="126.9,376.9 139.2,376.9 143.8,389.2 146.8,401.4 145.3,415.2 137.7,412.1 130.0,408.3 126.9,407.6" fill="#ffff00"/>
<polygon points="148.4,383.1 156.0,384.6 163.7,390.7 166.0,399.9 162.1,396.8 156.0,393.8 149.9,392.2" fill="#ffff00"/>
<polygon points="497.9,444.4 502.4,441.3 507.0,444.4 513.2,449.0 511.6,451.3 505.5,449.0 499.4,445.9" fill="#42c080"/>
<polygon points="499.9,442.8 506.0,444.3 513.7,448.9 512.1,451.2 506.0,448.9 499.9,445.8" fill="#42c080"/>
<polygon points="540.6,476.8 552.0,477.6 553.6,482.1 550.5,485.2 561.2,492.1 565.8,488.3 568.9,482.1 568.9,474.5 571.2,473.0 591.8,473.0 591.8,526.5 530.6,526.5 530.6,476.8" fill="#ff9900"/>
<polygon points="338.0,518.0 341.8,515.7 343.7,521.8 340.3,524.6 337.2,521.8" fill="#ff9900"/>
<polygon points="73.6,145.3 77.4,146.0 76.7,149.1 74.1,148.8" fill="#8f40ff"/>
<polygon points="77.4,298.5 82.0,298.2 83.9,304.6 80.5,306.9 77.8,303.1" fill="#ff4080"/>
<polygon points="79.0,310.7 82.8,309.2 85.9,316.8 86.6,324.5 82.8,325.3 80.5,318.4" fill="#ff4080"/>
<polygon points="132.6,261.0 137.1,259.0 141.7,261.0 140.2,264.0 135.6,265.1" fill="#ff4080"/>
<polygon points="134.5,268.6 137.9,267.9 137.1,270.9 134.8,271.2" fill="#ff4080"/>
<polygon points="132.9,294.6 139.4,293.9 139.0,298.2 133.8,298.5" fill="#ff4080"/>
<polygon points="79.7,320.0 85.9,319.2 87.4,326.1 85.1,332.2 81.3,330.7" fill="#ff4080"/>
<polygon points="157.8,343.0 161.6,343.0 161.9,349.1 158.6,349.4" fill="#ff4080"/>
</g>
</g>
<polygon class="co" points="63.7,134.1 70.6,139.1 79.0,141.4 81.3,135.3 82.8,129.9 85.9,131.0 94.3,132.6 103.5,135.3 121.8,140.7 143.3,146.0 152.4,148.3 164.7,150.6 180.0,152.9 210.6,158.3 241.2,162.6 271.8,165.5 299.4,167.8 317.8,169.0 330.0,169.3 368.3,169.3 368.3,164.4 371.6,164.4 373.2,172.8 382.0,175.9 389.7,174.3 395.8,177.4 400.4,178.9 406.5,182.8 412.7,179.7 418.8,181.5 428.0,182.0 418.8,187.3 409.6,195.0 401.9,202.7 412.7,199.6 414.9,204.2 421.8,201.9 425.0,200.2 431.1,198.7 435.2,195.6 439.3,191.0 445.4,188.5 448.5,190.0 443.4,194.1 440.3,197.1 440.3,199.7 443.4,197.1 447.4,197.7 450.5,200.2 453.6,202.8 458.7,203.3 463.8,200.2 469.9,198.7 476.0,196.1 478.1,197.7 477.6,200.7 482.1,200.2 485.2,199.2 487.2,201.2 488.8,206.3 494.4,205.8 494.9,207.9 490.3,208.4 486.2,208.9 483.2,209.9 480.1,208.9 476.0,208.4 471.9,208.9 467.9,210.4 463.8,211.9 460.7,214.0 457.7,215.0 455.6,217.6 453.6,221.6 451.5,225.7 449.5,230.8 448.0,233.9 450.0,233.4 452.6,228.8 455.6,224.7 457.7,223.7 455.6,230.8 454.6,235.9 453.1,243.1 452.0,249.2 451.0,257.0 452.9,263.7 456.0,274.4 460.6,278.2 465.9,274.4 469.7,266.7 471.3,259.1 469.7,253.0 468.9,253.3 466.8,249.2 465.8,245.1 465.3,240.0 465.8,234.9 466.8,230.8 467.9,225.7 469.9,224.7 474.0,227.8 475.0,225.7 476.0,221.6 478.1,218.6 480.1,216.5 480.6,211.9 483.2,210.4 486.2,211.9 490.3,214.0 495.4,216.0 498.5,218.6 500.5,222.7 500.0,227.8 499.5,231.8 496.4,235.9 494.9,239.0 494.4,242.0 497.4,242.6 500.0,238.0 502.6,235.4 506.1,234.4 508.2,236.4 509.7,240.0 511.7,245.1 513.3,250.2 513.8,255.3 514.1,254.5 511.1,258.3 508.0,266.7 505.7,271.3 511.1,272.1 514.9,275.2 521.0,272.9 527.1,269.8 531.7,266.7 537.9,262.9 544.0,259.1 550.1,253.7 553.2,246.8 550.1,241.5 554.7,237.7 562.3,236.1 570.0,235.8 558.4,236.4 570.6,235.7 577.5,231.8 576.4,225.7 578.3,219.6 584.4,210.4 589.0,205.8 592.8,204.3 607.3,200.5 625.7,196.6 625.7,192.8 631.8,191.3 633.4,185.9 635.7,176.7 634.1,170.6 636.4,163.0 638.7,154.5 641.8,153.8 644.1,156.8 651.0,151.9 656.3,155.3 658.6,163.0 662.4,172.9 667.0,176.0 669.3,181.3 674.7,184.4 675.5,187.4 671.6,189.0 670.1,193.6 662.4,198.2 656.3,201.2 651.7,205.8 647.1,210.4 644.8,216.5 642.6,223.4 642.5,226.5 645.6,229.6 644.0,233.4 647.9,236.9 651.7,238.8 654.7,238.0 655.5,236.0 657.0,236.9 657.7,241.1 655.8,244.6 653.7,243.7 651.7,244.6 653.2,246.4 659.3,247.3 656.3,248.4 649.4,248.7 646.3,248.0 643.3,249.5 640.2,253.3 637.1,257.9 628.0,263.3 618.8,269.4 617.2,272.4 618.0,283.2 615.7,289.3 613.4,295.4 611.1,296.2 610.4,301.5 611.1,307.7 609.6,313.8 608.1,319.9 606.5,326.0 611.1,300.0 611.9,307.7 609.6,315.3 606.5,323.0 605.0,328.3 605.8,332.1 609.6,338.3 614.2,344.4 616.5,349.0 615.7,355.1 611.1,359.7 608.1,364.3 605.0,367.3 598.9,367.3 594.3,368.9 591.2,375.0 590.5,381.1 583.6,383.4 579.0,387.2 575.9,393.4 572.9,398.0 571.3,401.0 584.1,383.1 578.0,387.7 576.4,393.8 570.3,399.9 564.2,406.0 559.6,410.6 556.5,416.7 555.0,422.9 554.2,430.5 554.2,436.6 556.5,444.3 561.1,453.5 565.7,461.1 569.5,467.2 571.8,473.4 564.3,459.2 568.9,465.3 571.2,473.0 575.0,479.1 579.6,486.7 582.7,492.9 583.4,502.0 583.9,508.2 582.7,514.3 580.4,518.1 575.0,519.6 571.2,519.6 569.6,514.3 565.8,511.2 561.2,509.7 558.2,505.1 553.6,502.0 550.5,495.9 545.9,489.8 542.9,485.2 540.6,480.6 541.3,476.0 542.1,469.9 540.6,464.5 536.7,462.2 530.6,458.4 524.5,453.1 519.9,450.8 525.9,455.0 519.8,451.2 513.7,453.5 507.6,459.6 503.0,458.1 495.3,451.2 487.7,449.6 480.0,450.4 471.8,452.0 467.2,450.5 462.7,453.6 458.1,453.6 451.9,455.1 447.3,458.2 453.5,456.6 458.1,459.7 453.5,467.3 455.0,471.9 450.4,475.0 445.8,468.9 441.2,470.4 438.2,473.5 430.5,475.0 424.4,471.9 421.3,467.3 413.7,466.6 410.6,465.1 403.0,466.6 395.3,465.8 389.2,465.8 380.0,468.1 377.0,470.6 370.9,475.2 363.3,480.5 357.1,482.8 351.0,486.6 346.4,491.2 341.8,495.8 340.3,501.9 340.3,509.6 341.8,515.7 343.4,521.8 340.3,524.1 335.7,521.8 329.6,521.8 323.5,518.8 315.8,515.7 312.8,509.6 311.2,503.5 309.7,497.3 305.1,492.8 300.5,485.1 295.9,475.9 291.3,468.3 286.7,463.7 280.6,462.9 274.5,462.1 269.9,464.4 266.8,469.8 262.2,474.4 256.1,471.3 250.0,467.5 244.8,462.7 242.5,455.0 240.2,448.9 235.6,442.8 229.5,436.6 224.9,430.5 221.1,425.2 199.6,425.9 199.6,431.3 187.4,430.5 175.9,428.7 162.9,427.4 154.5,422.9 145.3,416.7 137.7,412.1 130.0,408.3 124.9,404.2 115.7,398.8 119.5,395.8 100.4,394.2 87.4,393.5 85.1,387.3 84.3,381.2 79.0,373.6 74.4,369.0 68.3,364.4 63.7,359.8 57.6,356.0 51.4,353.7 49.9,350.6 51.4,346.0 49.9,340.7 46.8,333.8 43.8,326.1 41.5,320.0 44.5,315.3 41.5,310.7 40.7,306.1 38.4,293.9 36.9,289.3 35.4,281.6 33.1,274.0 33.1,264.8 31.5,257.1 31.5,251.0 36.1,243.4 38.4,237.2 39.9,230.4 39.2,225.0 40.7,221.0 39.9,218.0 43.8,211.8 49.9,199.6 54.5,187.3 59.1,175.1 61.4,165.9 64.4,157.5 62.9,150.6 62.4,143.0"/>
<polygon points="431.0,183.5 435.6,180.5 439.4,178.9 439.0,180.9 434.8,183.5 431.8,185.1" fill="#ff4080" stroke="#000" stroke-width="1" stroke-linejoin="round"/>
<polyline class="st" points="61.4,167.4 66.7,169.7 71.3,173.6 73.6,181.2 80.5,182.8 91.2,185.1 103.5,185.8 115.7,186.6 126.4,188.9 134.8,190.4"/>
<polyline class="st" points="143.6,146.3 134.8,190.4 138.7,197.3 131.0,208.8 126.4,213.4 128.0,218.0 127.2,221.0"/>
<polyline class="st" points="152.4,148.8 150.9,158.3 152.4,170.5 160.1,181.2 164.4,187.0 161.6,193.5 158.6,202.7 162.9,203.9"/>
<polyline class="st" points="165.3,202.3 167.6,209.2 169.1,215.3 172.2,218.4 173.7,223.0 180.6,223.0 188.3,223.3 191.3,220.7 193.6,225.3"/>
<polyline class="st" points="194.4,218.1 226.5,222.2 270.9,226.8"/>
<polyline class="st" points="194.4,218.1 191.3,238.3 187.5,262.8 185.2,278.8 207.4,281.9 241.8,285.7 266.3,288.5 268.6,258.2 270.9,226.8 273.2,200.0"/>
<polyline class="st" points="273.2,212.2 300.0,214.5"/>
<polyline class="st" points="268.6,258.2 300.0,260.5"/>
<polyline class="st" points="266.3,288.5 288.5,289.5 289.3,301.0"/>
<polyline class="st" points="207.4,281.9 205.9,301.0"/>
<polyline class="st" points="276.4,166.2 274.9,181.2 273.4,196.5 272.6,211.8 271.5,221.0"/>
<polyline class="st" points="39.9,230.4 60.6,235.7 86.6,243.4 120.3,250.3 152.4,258.7 180.0,262.5"/>
<polyline class="st" points="150.0,257.4 186.7,263.1"/>
<polyline class="st" points="86.6,243.4 82.0,263.3 74.4,287.0 80.5,298.5 91.2,313.8 96.6,321.7"/>
<polyline class="st" points="126.4,225.0 120.3,250.3"/>
<polyline class="st" points="152.4,258.7 147.9,286.2 143.3,309.2 140.2,326.0"/>
<polyline class="st" points="97.3,320.0 106.5,335.3 115.7,349.1 123.4,358.3 125.7,361.3 126.4,369.0 129.5,374.3 123.4,378.2 120.3,387.3 119.5,395.8"/>
<polyline class="st" points="141.7,320.0 139.4,333.8 137.1,344.5 134.1,348.3 128.0,346.0 127.2,355.2 125.7,361.3"/>
<polyline class="st" points="139.4,333.8 180.0,339.9"/>
<polyline class="st" points="206.6,290.0 202.8,316.0 199.7,343.6 195.9,366.5 192.9,391.0"/>
<polyline class="st" points="150.0,335.6 199.7,343.6 234.2,348.2 273.2,351.7 300.0,353.1"/>
<polyline class="st" points="289.3,290.0 288.5,305.3 287.0,328.3 285.5,352.0"/>
<polyline class="st" points="288.5,305.3 300.0,305.8"/>
<polyline class="st" points="273.2,351.7 272.4,359.6 270.9,378.8 270.2,391.0"/>
<polyline class="st" points="272.4,359.6 287.8,360.1 300.0,360.7"/>
<polyline class="st" points="194.3,380.0 191.2,403.0 187.4,430.5"/>
<polyline class="st" points="270.8,380.0 269.3,403.0 267.8,427.4 221.1,424.7"/>
<polyline class="st" points="290.0,213.8 320.6,215.3 352.8,216.5"/>
<polyline class="st" points="352.0,200.0 353.5,209.2 352.8,216.5 351.2,219.9 354.3,224.5 355.1,238.3 354.3,254.3 353.5,261.2 352.0,267.3 355.8,271.9 357.3,278.1 359.6,284.2 361.2,291.8 362.7,298.7"/>
<polyline class="st" points="354.3,254.3 377.2,253.6 412.4,252.5"/>
<polyline class="st" points="290.0,258.9 317.6,260.9 331.3,262.0 337.4,265.1 342.0,263.5 348.2,265.1 352.0,267.3"/>
<polyline class="st" points="401.0,200.0 399.4,206.1 398.7,214.5 394.1,219.9 395.6,224.5 395.6,235.2 401.7,238.3 406.3,242.1 411.7,245.9 412.4,252.5 414.7,258.9 417.0,264.3 423.2,268.9 427.0,275.0 425.5,279.6 418.6,284.2 417.0,288.8 418.6,293.4 414.0,298.0 413.2,301.0"/>
<polyline class="st" points="422.9,267.7 440.0,266.1"/>
<polyline class="st" points="362.7,298.7 397.1,297.5 413.2,298.7"/>
<polyline class="st" points="347.3,169.7 348.4,181.2 350.7,193.5 353.0,211.8 353.0,221.0"/>
<polyline class="st" points="401.9,202.7 399.6,211.8 394.3,218.0 393.5,221.0"/>
<polyline class="st" points="421.9,208.4 425.0,208.9 431.1,209.9 440.3,211.4 445.4,213.5 448.0,217.6 449.5,221.6 451.0,224.7 452.0,225.7"/>
<polyline class="st" points="290.0,305.3 323.7,307.1 367.3,308.1"/>
<polyline class="st" points="361.2,290.0 361.6,296.9 364.2,302.2 367.3,308.1 372.7,310.7 370.4,314.5 374.2,319.1 376.5,322.1 376.9,326.7 376.9,354.3 377.2,361.9 377.2,366.5 378.0,372.7 379.1,391.0"/>
<polyline class="st" points="419.3,290.0 417.0,296.1 413.2,299.9 413.2,305.3 415.5,311.4 421.6,316.8 424.7,322.1 429.3,322.9 430.1,328.3 428.5,333.6 432.3,337.4 438.5,340.5 440.0,342.8"/>
<polyline class="st" points="290.0,352.4 299.2,353.1 323.7,354.3 376.9,354.6"/>
<polyline class="st" points="290.0,360.4 306.8,360.7 309.9,361.9 309.6,391.0"/>
<polyline class="st" points="377.2,361.9 412.4,361.2 433.1,360.4 433.9,363.5 430.8,366.5 436.9,367.3"/>
<polyline class="st" points="420.0,266.7 452.1,265.2"/>
<polyline class="st" points="457.5,276.7 458.3,291.2 460.6,309.6 461.3,321.8 458.3,331.0"/>
<polyline class="st" points="465.9,275.2 488.9,273.6 505.7,271.6"/>
<polyline class="st" points="488.9,273.6 491.2,294.3 493.2,312.7"/>
<polyline class="st" points="537.9,263.7 539.4,283.6 541.7,297.3"/>
<polyline class="st" points="541.7,297.3 554.7,295.1 570.0,293.5"/>
<polyline class="st" points="413.0,300.0 413.0,306.1 416.8,312.2 423.0,318.4 426.0,323.0 429.8,324.5 428.3,332.1 432.1,336.7 437.5,340.6 440.6,345.9 441.3,350.5 439.8,358.2 436.7,367.3 434.4,376.5 432.9,382.7 429.1,390.3 425.3,398.0 423.7,401.0"/>
<polyline class="st" points="459.7,300.0 460.5,309.2 462.0,318.4 459.7,326.0 456.6,332.1 455.9,336.7"/>
<polyline class="st" points="441.3,350.5 445.9,347.4 452.0,346.7 455.1,341.3 455.9,336.7 461.2,336.0 467.3,335.2 470.4,331.4 475.0,332.1 479.6,329.8 483.4,326.8 487.2,319.9 491.8,319.1 493.4,313.8 499.5,315.3 505.6,319.1 513.3,317.6 520.9,320.7 524.0,315.3 525.5,310.7 530.1,308.4 533.2,304.6 537.8,300.0 541.7,297.4"/>
<polyline class="st" points="491.8,300.0 492.6,309.2 493.4,313.8"/>
<polyline class="st" points="520.9,320.7 522.4,326.8 527.0,332.1 530.1,334.4 534.7,337.5 542.3,335.2 550.0,331.4"/>
<polyline class="st" points="530.1,334.4 524.0,340.6 519.4,345.9 513.3,349.7"/>
<polyline class="st" points="441.3,358.9 458.2,357.4 458.9,355.1 479.6,352.8 504.1,350.5 513.3,349.7 534.7,346.7 550.0,345.2"/>
<polyline class="st" points="536.2,348.2 533.2,355.1 525.5,359.7 519.4,364.3 511.7,367.3 507.1,373.5 507.1,375.8"/>
<polyline class="st" points="432.9,382.7 458.9,380.4 491.8,378.1 507.1,375.8 520.9,374.5 530.1,369.6 550.0,368.6"/>
<polyline class="st" points="520.9,374.5 522.4,379.6 527.0,382.7 533.2,388.8 540.8,396.4 545.4,401.0"/>
<polyline class="st" points="458.9,380.4 459.7,391.8 459.4,401.0"/>
<polyline class="st" points="491.8,378.1 494.1,388.8 496.4,401.0"/>
<polyline class="st" points="400.0,361.2 432.1,360.5 433.7,363.5 430.6,366.6 437.5,367.3"/>
<polyline class="st" points="310.3,361.5 309.5,373.0 309.1,389.8 312.1,392.9 317.5,393.6 319.0,396.7 325.9,398.2 332.0,399.0 335.1,402.0 341.2,402.0 345.1,403.6 348.1,401.3 353.5,402.8 355.8,404.3 359.6,402.8 365.7,402.8 369.5,401.3 374.9,403.6 380.3,407.4 385.3,406.9 385.9,415.8 385.6,429.6 389.4,437.2 391.7,443.4 392.5,451.0"/>
<polyline class="st" points="385.9,415.5 402.4,415.1 422.3,414.6"/>
<polyline class="st" points="422.0,402.8 423.9,411.2 423.1,417.3 425.4,425.0 422.3,432.7 418.5,440.3 417.8,444.9 430.0,445.7"/>
<polyline class="st" points="377.2,354.6 378.0,373.0 379.5,395.9 380.3,406.9"/>
<polyline class="st" points="386.1,415.3 386.1,427.6 390.7,438.3 393.0,445.9 390.7,453.6 389.9,461.2 389.2,465.8"/>
<polyline class="st" points="417.5,442.9 418.3,444.8 442.8,444.4 442.0,449.0 445.8,456.6"/>
<polyline class="st" points="422.1,414.5 424.4,419.9 425.9,424.5 421.3,433.7 417.5,442.9"/>
<polyline class="st" points="458.8,400.0 459.3,423.0 460.4,442.9 461.1,452.8"/>
<polyline class="st" points="471.8,442.1 487.1,440.6 504.7,438.6"/>
<polyline class="st" points="497.1,400.0 502.4,413.8 504.7,419.9 504.7,438.3"/>
<polyline class="st" points="505.3,438.9 507.6,442.0 525.9,441.2 544.3,440.5 545.1,442.8 546.6,437.4 554.2,436.6"/>
<polyline class="st" points="521.3,380.0 530.5,387.7 541.2,396.8 550.4,406.0 556.5,412.1"/>
<polyline class="st" points="530.0,349.0 553.0,344.4 575.9,340.6 601.9,336.0"/>
<polyline class="st" points="530.0,370.4 549.9,368.9 553.0,371.2 565.2,370.4 581.3,381.1"/>
<polyline class="st" points="568.3,300.0 562.9,309.2 556.0,315.3 553.0,324.5 546.8,332.1 536.1,338.3 530.0,332.9"/>
<polyline class="st" points="545.3,261.0 568.3,256.4 594.3,251.8 597.3,252.6 601.2,257.9 605.0,259.4 601.9,264.8 601.2,270.9 608.8,277.8 603.5,284.7 599.6,287.0"/>
<polyline class="st" points="542.2,296.9 568.3,292.3 598.9,287.0 601.9,304.6 610.4,304.6"/>
<polyline class="st" points="605.0,260.2 615.7,264.0"/>
<polyline class="st" points="555.3,296.2 556.8,302.3 562.9,296.9 568.3,293.9 569.8,298.5 575.9,300.0 573.6,294.6"/>
<polyline class="st" points="568.3,299.2 565.2,307.7 556.0,313.8 553.0,323.0 551.4,326.0"/>
<polyline class="st" points="607.3,200.8 608.9,213.5 613.5,225.7 615.8,234.9 615.8,241.0"/>
<polyline class="st" points="625.7,196.9 623.4,208.9 622.7,221.1 623.4,231.8"/>
<polyline class="st" points="631.1,192.8 634.9,205.8 639.5,218.1 641.8,223.4"/>
<polyline class="st" points="615.8,234.9 623.4,232.6 638.0,229.5 642.6,227.2"/>
<polyline class="st" points="614.9,225.0 615.7,234.2 616.5,244.9 617.2,252.6 616.5,263.3"/>
<polyline class="st" points="616.5,244.9 635.6,241.8 637.1,251.0"/>
<polyline class="st" points="616.5,234.9 637.1,230.4"/>
<polygon class="k" points="509.5,271.6 513.4,270.7 515.7,275.2 511.1,275.6"/>
<polygon class="k" points="616.0,265.1 621.8,261.4 629.5,257.9 637.1,253.8 640.2,252.9 640.5,254.1 637.1,255.6 630.3,259.4 622.6,263.3 617.2,266.6"/>
<polygon class="k" points="639.4,243.4 643.3,242.6 646.3,244.9 648.6,248.0 645.6,249.2 642.5,248.0 640.2,246.4"/>
<polygon class="k" points="612.7,268.6 615.7,267.1 617.2,269.4 614.9,271.7 612.7,270.9"/>
<polygon class="k" points="562.4,529.3 565.8,527.3 570.4,526.2 575.0,523.2 578.8,520.1 581.9,516.1 582.7,517.3 579.6,521.2 575.8,524.7 570.7,527.4 566.1,528.7 563.1,530.4"/>
<polygon class="k" points="597.1,288.3 599.7,289.8 598.6,293.6 596.4,296.7 597.9,301.2 596.4,305.8 599.4,308.0 601.7,310.3 603.2,314.8 601.7,318.6 603.9,322.4 603.2,327.0 604.7,330.0 602.4,330.8 600.9,327.0 599.7,323.2 597.9,320.9 599.1,317.1 597.1,314.1 595.6,311.1 592.6,308.8 591.1,305.0 593.3,301.2 591.8,296.7 594.1,292.1"/>
<polygon class="k" points="583.5,309.5 586.5,308.0 591.1,309.5 595.6,311.8 594.1,313.6 589.5,312.1 585.8,312.1 584.2,311.5"/>
<polygon class="k" points="589.5,315.6 592.6,316.4 597.9,320.2 599.7,323.2 597.1,322.4 594.1,319.7 590.3,317.6"/>
<polygon class="k" points="587.0,325.2 590.3,325.2 596.4,327.3 600.6,330.8 601.7,333.0 598.6,332.3 594.8,329.2 590.3,327.0 587.3,326.4"/>
<polygon class="k" points="603.2,304.2 605.5,302.7 607.7,306.5 608.5,311.8 606.2,316.4 604.7,313.3 605.5,308.8"/>
<polygon class="k" points="597.9,341.4 602.4,339.8 605.5,342.1 610.0,342.9 608.5,345.2 603.9,344.4 600.2,345.2"/>
<polygon class="k" points="595.6,353.5 600.2,352.0 603.9,352.7 605.5,355.0 601.7,356.5 597.9,355.8"/>
<polygon class="k" points="598.6,359.5 603.2,358.0 605.5,360.3 602.4,362.6 599.1,361.8"/>
<polygon class="k" points="608.5,346.7 612.3,347.4 611.5,351.2 609.2,352.7 608.2,349.7"/>
<polygon class="k" points="79.7,134.5 83.6,133.8 87.4,135.3 88.2,141.4 86.6,147.6 87.4,152.1 83.6,154.4 82.0,158.3 77.4,159.8 75.2,156.7 75.9,152.9 79.0,150.6 82.0,146.0 81.3,139.9"/>
<polygon class="k" points="39.2,292.3 43.0,291.6 44.5,295.4 43.8,300.0 45.3,303.8 42.2,304.6 39.9,301.5 40.7,296.9"/>
<polygon class="k" points="655.6,194.3 659.4,193.6 664.0,195.9 666.3,198.9 662.4,200.5 660.9,202.8 657.1,202.0 656.3,198.2"/>
<polygon class="k" points="647.1,205.1 651.0,203.5 654.0,205.1 653.3,208.1 649.4,209.6 647.1,208.1"/>
<polygon class="k" points="669.3,187.4 671.6,186.7 671.9,189.7 669.8,190.2"/>
<polygon class="k" points="577.5,221.1 580.1,220.4 581.0,224.2 578.3,225.4"/>
<polygon class="k" points="373.2,466.7 377.0,465.5 378.3,468.0 374.7,469.5"/>
<polygon class="k" points="350.3,482.8 355.6,480.5 357.9,482.8 354.1,485.1 351.0,486.6 348.0,489.7 344.1,492.0 341.8,495.8 339.5,499.6 338.0,501.9 335.7,501.2 338.8,497.3 342.6,492.8 346.4,488.9"/>
<polygon class="k" points="339.5,501.9 341.1,509.6 342.6,515.7 343.7,521.8 341.8,521.8 340.6,515.7 339.5,509.6"/>
<polygon class="k" points="442.8,458.2 447.3,456.6 451.2,458.2 448.9,461.2 451.9,464.3 449.6,467.3 452.7,470.4 450.4,472.7 447.3,469.6 444.3,467.3 441.2,465.8 438.9,467.3 438.2,465.1 441.2,463.5 443.5,461.2"/>
<polygon class="k" points="411.4,465.1 416.0,464.0 418.3,466.6 414.4,468.1"/>
<polygon class="k" points="465.7,448.2 468.0,447.4 468.8,452.0 466.5,452.8"/>
<polygon class="k" points="478.0,446.7 480.3,445.9 481.0,450.5 478.7,451.3"/>
<polygon class="k" points="487.1,448.2 491.7,448.7 491.4,450.2 487.1,449.9"/>
<polygon class="k" points="540.6,478.3 544.4,477.6 547.4,480.6 545.9,484.4 547.4,487.5 544.4,488.3 542.1,485.2 541.0,481.4"/>
<polygon class="k" points="551.3,495.9 553.6,495.2 555.9,499.0 554.3,502.8 552.0,501.3"/>
<polygon class="k" points="567.3,465.3 570.1,464.5 571.6,469.1 570.7,473.0 568.6,469.9"/>
<polygon class="k" points="570.4,515.8 573.5,515.1 576.5,518.1 573.5,519.6 570.7,518.9"/>
<polygon class="k" points="557.3,407.6 562.7,406.8 563.4,409.8 559.6,412.9 557.3,414.4 556.5,411.4"/>
<polygon class="k" points="551.9,419.0 555.8,418.3 555.8,423.6 554.2,430.5 551.9,431.3 552.7,424.4"/>
<polygon class="k" points="574.9,393.0 578.0,392.2 579.5,395.3 576.4,397.6"/>
<polygon class="k" points="567.2,463.4 570.3,464.9 571.8,470.3 569.5,471.8 567.6,467.2"/>
<polygon class="k" points="49.1,360.1 54.5,360.6 60.6,362.9 63.7,364.4 59.8,364.7 53.0,362.9 49.6,361.6"/>
<polygon class="k" points="56.8,373.6 59.1,373.6 59.1,375.4 56.9,375.4"/>
<polygon class="k" points="70.1,374.3 72.9,375.1 74.4,378.2 72.1,377.9"/>
<polygon points="545.6,529.9 547.8,530.2 548.1,532.0 545.9,532.2" fill="#ff3300"/>
<polygon points="556.9,529.3 559.1,529.9 559.4,532.0 557.2,531.7" fill="#ff3300"/>
<polygon points="565.1,526.5 568.1,525.8 570.4,524.7 570.7,526.2 567.3,527.8 565.5,528.1" fill="#ff3300"/>
<polygon points="576.5,521.9 579.6,519.2 581.1,517.3 582.0,518.3 579.9,520.7 577.4,523.2" fill="#ff3300"/>
<polygon points="583.4,506.6 585.1,506.3 585.3,508.5 583.6,508.5" fill="#ff3300"/>
</g>
<g id="legend">
<rect x="709.5" y="79.5" width="41" height="21" rx="1.2" fill="#fff" stroke="#3f0a3f" stroke-width="3"/>
<text class="lg" x="759" y="95">STATES</text>
<text class="lg" x="709.5" y="118" textLength="235.5" lengthAdjust="spacing">02 MEAN DAILY MIN TEMP (DEG_F)</text>
<rect x="708" y="122" width="44" height="20" fill="#000"/>
<text class="lg" x="759" y="139">- FEBRUARY -</text>
<text class="lg" x="759" y="160">A &lt; 0.1</text>
<rect x="708" y="162" width="44" height="21" fill="#ea5593"/>
<text class="lg" x="759" y="180">B 0.1 - 15.0</text>
<rect x="708" y="183" width="44" height="20" fill="#a145ff"/>
<text class="lg" x="759" y="200">C 15.1 - 25.0</text>
<rect x="708" y="203" width="44" height="20" fill="#4466e6"/>
<text class="lg" x="759" y="220">D 25.1 - 32.0</text>
<rect x="708" y="223" width="44" height="20" fill="#52dfa6"/>
<text class="lg" x="759" y="241">E 32.1 - 40.0</text>
<rect x="708" y="243" width="44" height="21" fill="#f0ff24"/>
<text class="lg" x="759" y="261">F 40.1 - 50.0</text>
<rect x="708" y="264" width="44" height="20" fill="#f9bb1f"/>
<text class="lg" x="759" y="281">G 50.1 - 60.0</text>
<rect x="708" y="284" width="44" height="23" fill="#ff4422"/>
<text class="lg" x="759" y="302">H 60.1 - 70.0</text>
<polyline points="713.7,327.1 725.9,316.3 733.1,321.5 744.9,311.3" fill="none" stroke="#333" stroke-width="1"/>
<text class="lg" x="759" y="325">TITLE</text>
</g>
<g id="north">
<line x1="658.6" y1="594.7" x2="636.8" y2="630.5" stroke="#777" stroke-width="0.8"/>
<line x1="660" y1="596" x2="683.6" y2="631.4" stroke="#000" stroke-width="1.8"/>
<polyline points="639,630.5 658.6,623.3" fill="none" stroke="#000" stroke-width="2.6"/>
<polyline points="658.6,623.3 683.6,631.4" fill="none" stroke="#000" stroke-width="1.3"/>
<text x="652.2" y="650.7" font-size="28.7" textLength="17.9" lengthAdjust="spacingAndGlyphs">N</text>
</g>
<g id="logos">
<ellipse cx="81.4" cy="526.3" rx="34" ry="33.3" fill="#fff" stroke="#000" stroke-width="1.1"/>
<path d="M52.5,508.5 L63.2,517.2 L72.2,528.8 L77,532 L81.2,533.3 L86,531.5 L91.5,527.5 L97.9,515.9 L103,508.8 L108.2,506.9 L111.8,512.7 L104.4,522.3 L96.6,530 L91.5,532.9 L96,533.9 L96.4,535.8 L88.9,537.1 L78.6,541.6 L70.9,542.5 L69.3,541 L75.4,538.4 L74.7,537.1 L65.7,533.9 L56.7,524.9 L48.4,518.5 Z" fill="#000"/>
<text x="66.8" y="516.6" font-size="12.6" textLength="27.2" lengthAdjust="spacingAndGlyphs">NOAA</text>
<text transform="translate(125.5,555) scale(0.66,1) skewX(-6)" font-size="54" font-style="italic" textLength="101" lengthAdjust="spacing" style="font-family:'Liberation Serif',serif;fill:#fff;stroke:#000;stroke-width:1.5;stroke-linejoin:round">OCS</text>
<text x="428.4" y="530.7" font-size="12" textLength="70.3" lengthAdjust="spacing">FEBRUARY</text>
<text x="341.4" y="548" font-size="12.5" textLength="242" lengthAdjust="spacing">MEAN DAILY MINIMUM TEMPERATURE</text>
</g>
</svg>
</body>
</html>
